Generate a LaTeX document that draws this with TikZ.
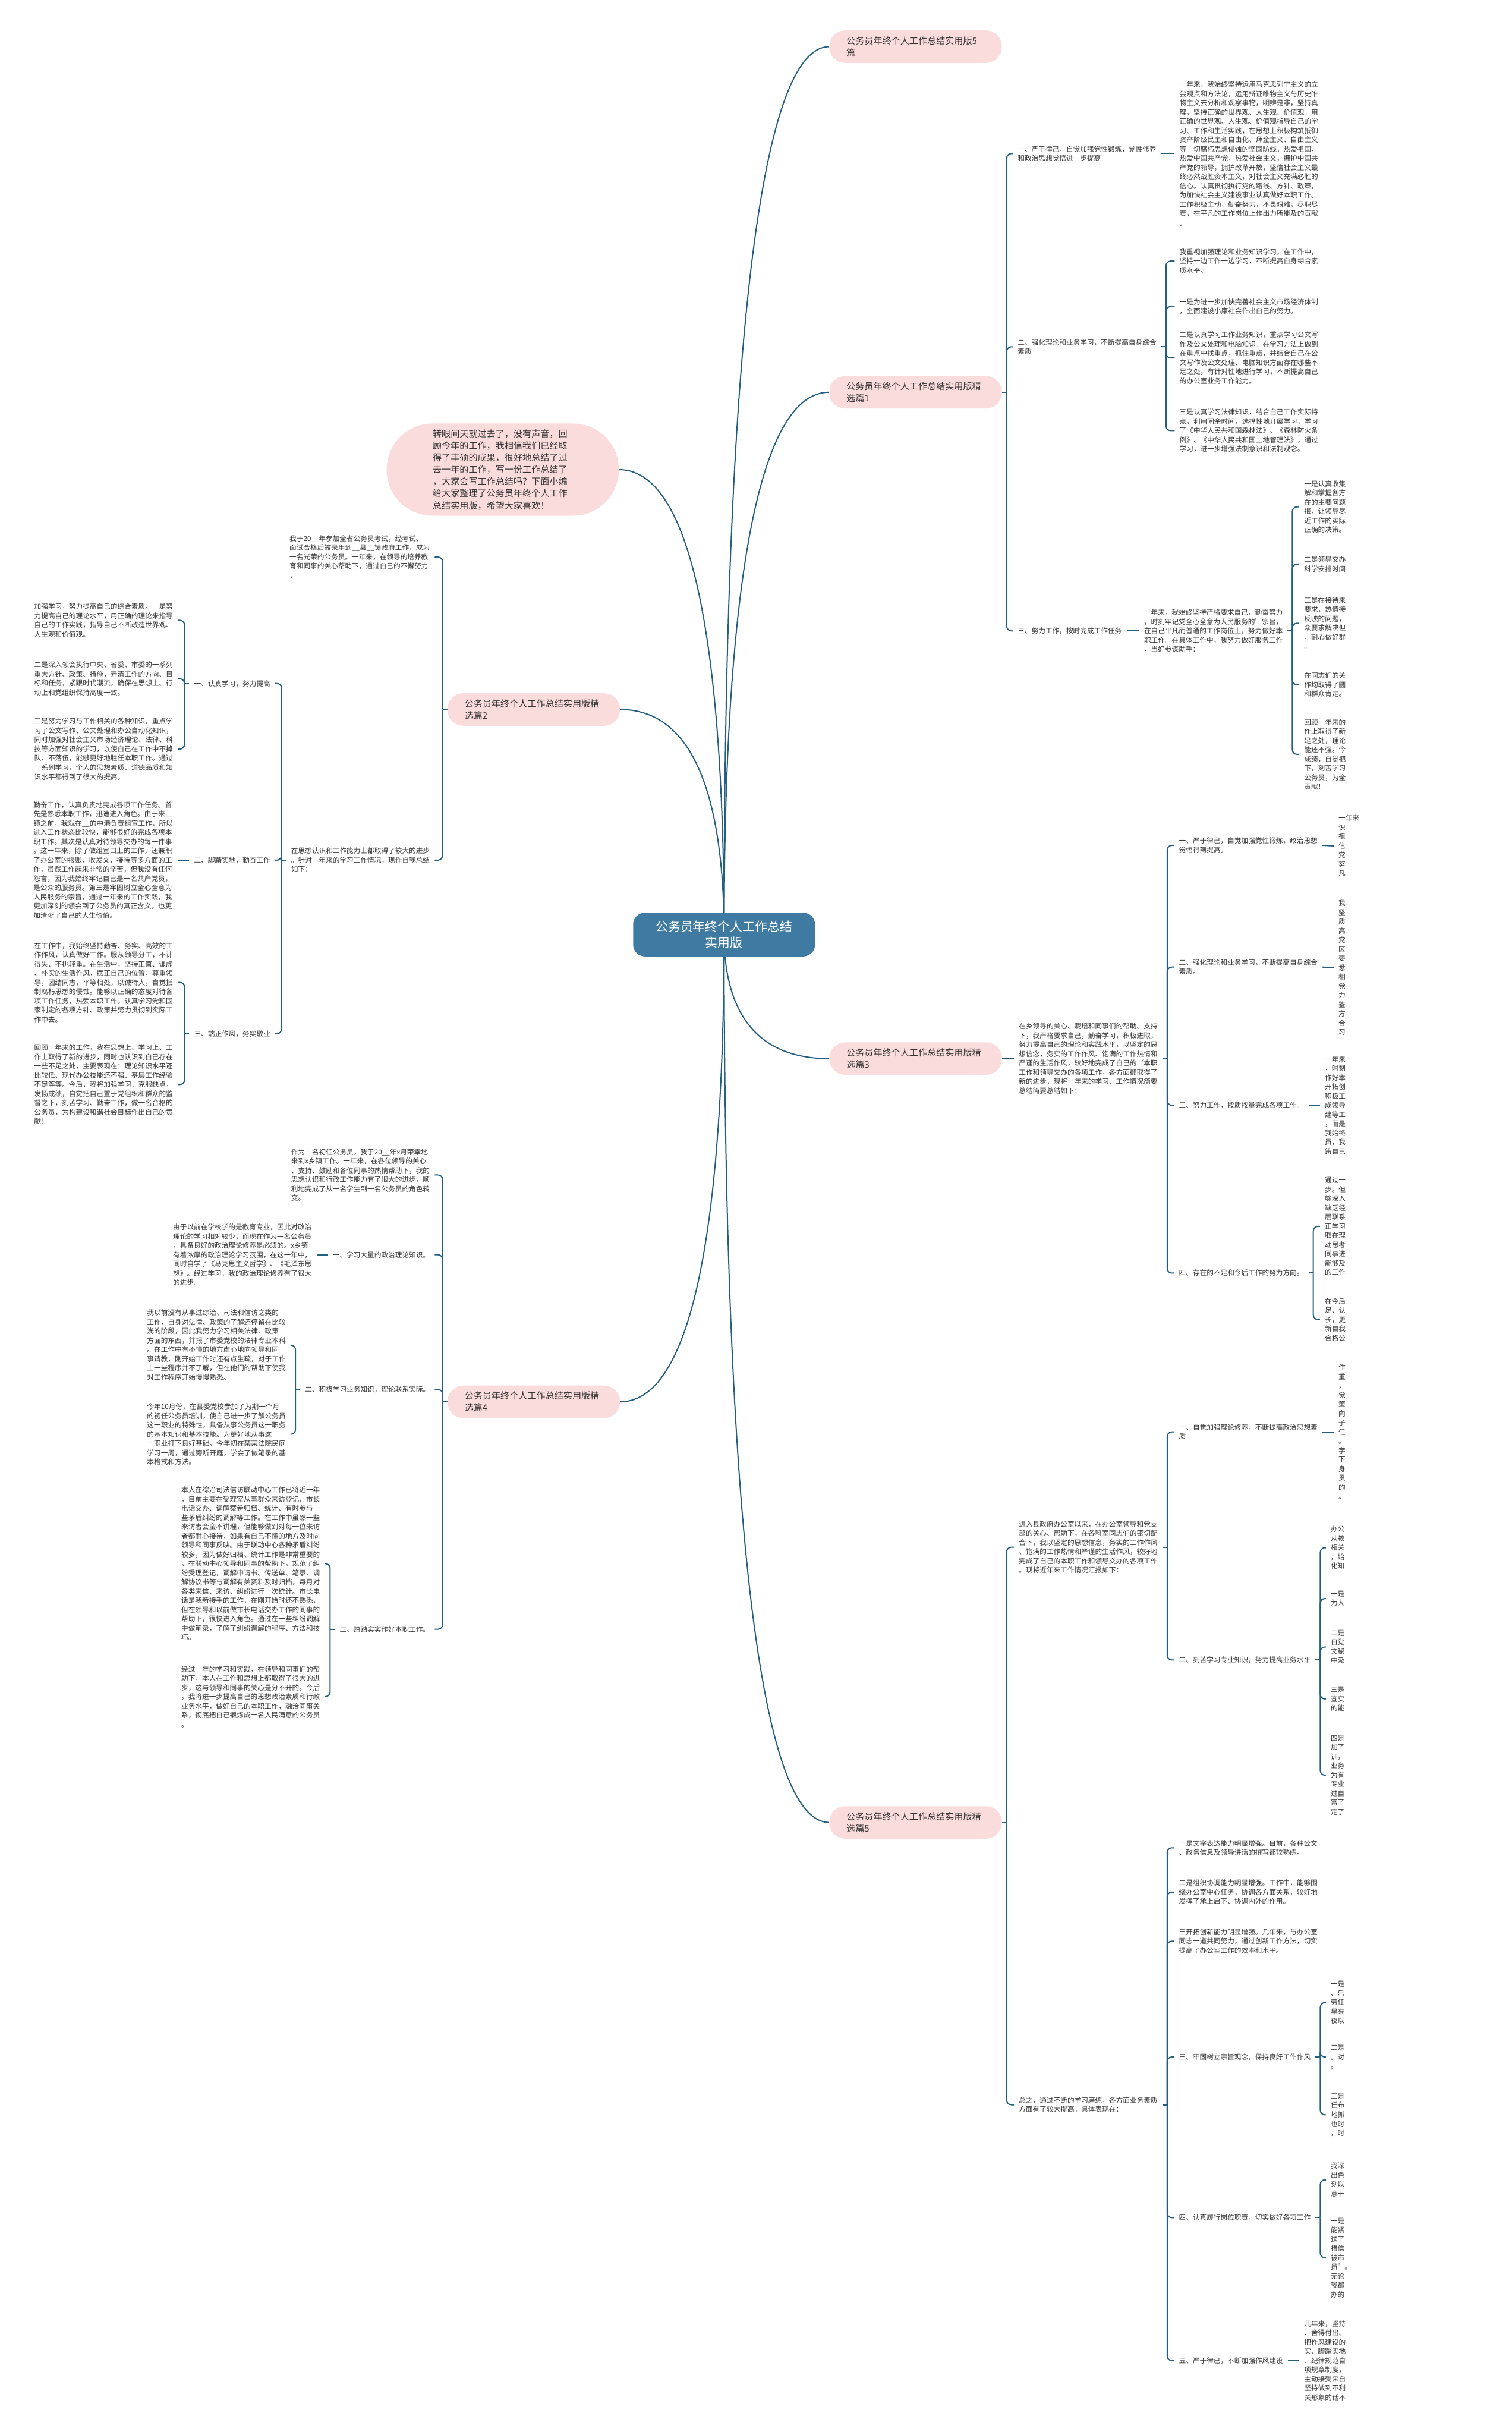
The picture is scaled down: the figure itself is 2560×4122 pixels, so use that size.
\documentclass[tikz,border=0pt]{standalone}
\usepackage{fontspec}
\setmainfont{Noto Sans CJK SC}
\usetikzlibrary{calc, positioning, backgrounds}

\definecolor{LinkBlue}{RGB}{36,94,128}
\definecolor{RootBlue}{RGB}{62,122,162}
\definecolor{PillPink}{RGB}{251,220,220}
\definecolor{TextGray}{RGB}{51,51,51}

\begin{document}
\begin{tikzpicture}[x=0.75pt, y=-0.75pt,
  root/.style={fill=RootBlue, text=white, rounded corners=15pt, align=center,
               minimum width=231pt, minimum height=55.5pt, font=\fontsize{15.8}{20}\selectfont},
  pill/.style={fill=PillPink, text=TextGray, rounded corners=20pt, align=left,
               text width=175.5pt, inner xsep=21.75pt, minimum height=41.25pt,
               font=\fontsize{11.4}{15.2}\selectfont},
  bigpill/.style={pill, text width=177.75pt, inner xsep=58.5pt, minimum height=117pt,
                  rounded corners=58pt},
  txt/.style={text=TextGray, align=left, inner xsep=6pt, inner ysep=0pt,
              font=\fontsize{8.8}{11.7}\selectfont},
  link/.style={draw=LinkBlue, line width=1.5pt},
  hook/.style={link, rounded corners=6pt},
  rootcurve/.style={to path={.. controls ($(\tikztostart)!0.5!(\tikztostart|-\tikztotarget)$)
                    and ($(\tikztostart|-\tikztotarget)!0.2!(\tikztotarget)$) .. (\tikztotarget)}},
]
\useasboundingbox (0,0) rectangle (2560,4122);

% centre
\node[root] (root) at (1226,1582) {公务员年终个人工作总结\\实用版};

% right hand pills
\node[pill, anchor=west] (allfive) at (1404,79) {公务员年终个人工作总结实用版5\\篇};
\node[pill, anchor=west] (sel1) at (1404,664) {公务员年终个人工作总结实用版精\\选篇1};
\node[pill, anchor=west] (sel3) at (1404,1792) {公务员年终个人工作总结实用版精\\选篇3};
\node[pill, anchor=west] (sel5) at (1404,3085) {公务员年终个人工作总结实用版精\\选篇5};

% left hand pills
\node[bigpill, anchor=east] (intro) at (1048,795) {转眼间天就过去了，没有声音，回\\顾今年的工作，我相信我们已经取\\得了丰硕的成果，很好地总结了过\\去一年的工作，写一份工作总结了\\，大家会写工作总结吗？下面小编\\给大家整理了公务员年终个人工作\\总结实用版，希望大家喜欢！};
\node[pill, anchor=east] (sel2) at (1050,1201) {公务员年终个人工作总结实用版精\\选篇2};
\node[pill, anchor=east] (sel4) at (1050,2373) {公务员年终个人工作总结实用版精\\选篇4};

% ---- 精选篇1
\node[txt, anchor=west] (s1a) at (1715,260) {一、严于律己，自觉加强党性锻炼，党性修养\\和政治思想觉悟进一步提高};
\node[txt, anchor=west] (s1a1) at (1989,260) {一年来，我始终坚持运用马克思列宁主义的立\\尝观点和方法论，运用辩证唯物主义与历史唯\\物主义去分析和观察事物，明辨是非，坚持真\\理，坚持正确的世界观、人生观、价值观，用\\正确的世界观、人生观、价值观指导自己的学\\习、工作和生活实践，在思想上积极构筑抵御\\资产阶级民主和自由化、拜金主义、自由主义\\等一切腐朽思想侵蚀的坚固防线。热爱祖国，\\热爱中国共产党，热爱社会主义，拥护中国共\\产党的领导，拥护改革开放，坚信社会主义最\\终必然战胜资本主义，对社会主义充满必胜的\\信心。认真贯彻执行党的路线、方针、政策，\\为加快社会主义建设事业认真做好本职工作。\\工作积极主动，勤奋努力，不畏艰难，尽职尽\\责，在平凡的工作岗位上作出力所能及的贡献\\。};
\node[txt, anchor=west] (s1b) at (1715,587) {二、强化理论和业务学习，不断提高自身综合\\素质};
\node[txt, anchor=west] (s1b1) at (1989,442) {我重视加强理论和业务知识学习，在工作中，\\坚持一边工作一边学习，不断提高自身综合素\\质水平。};
\node[txt, anchor=west] (s1b2) at (1989,519) {一是为进一步加快完善社会主义市场经济体制\\，全面建设小康社会作出自己的努力。};
\node[txt, anchor=west] (s1b3) at (1989,606) {二是认真学习工作业务知识，重点学习公文写\\作及公文处理和电脑知识。在学习方法上做到\\在重点中找重点，抓住重点，并结合自己在公\\文写作及公文处理、电脑知识方面存在哪些不\\足之处，有针对性地进行学习，不断提高自己\\的办公室业务工作能力。};
\node[txt, anchor=west] (s1b4) at (1989,729) {三是认真学习法律知识，结合自己工作实际特\\点，利用闲余时间，选择性地开展学习，学习\\了《中华人民共和国森林法》、《森林防火条\\例》、《中华人民共和国土地管理法》，通过\\学习，进一步增强法制意识和法制观念。};
\node[txt, anchor=west] (s1c) at (1715,1068) {三、努力工作，按时完成工作任务};
\node[txt, anchor=west] (s1c1) at (1929,1068) {一年来，我始终坚持严格要求自己，勤奋努力\\，时刻牢记党全心全意为人民服务的'宗旨，\\在自己平凡而普通的工作岗位上，努力做好本\\职工作。在具体工作中，我努力做好服务工作\\，当好参谋助手：};
\node[txt, anchor=west] (s1c1a) at (2200,858) {一是认真收集\\解和掌握各方\\在的主要问题\\报，让领导尽\\近工作的实际\\正确的决策。};
\node[txt, anchor=west] (s1c1b) at (2200,955) {二是领导交办\\科学安排时间};
\node[txt, anchor=west] (s1c1c) at (2200,1055) {三是在接待来\\要求，热情接\\反映的问题，\\众要求解决但\\，耐心做好群\\。};
\node[txt, anchor=west] (s1c1d) at (2200,1159) {在同志们的关\\作均取得了圆\\和群众肯定。};
\node[txt, anchor=west] (s1c1e) at (2200,1277) {回顾一年来的\\作上取得了新\\足之处，理论\\能还不强。今\\成绩，自觉把\\下，刻苦学习\\公务员，为全\\贡献！};

% ---- 精选篇3
\node[txt, anchor=west] (s3i) at (1717,1792) {在乡领导的关心、栽培和同事们的帮助、支持\\下，我严格要求自己，勤奋学习，积极进取，\\努力提高自己的理论和实践水平，以坚定的思\\想信念，务实的工作作风、饱满的工作热情和\\严谨的生活作风，较好地完成了自己的`本职\\工作和领导交办的各项工作，各方面都取得了\\新的进步，现将一年来的学习、工作情况简要\\总结简要总结如下：};
\node[txt, anchor=west] (s3a) at (1988,1431) {一、严于律己，自觉加强党性锻炼，政治思想\\觉悟得到提高。};
\node[txt, anchor=west] (s3b) at (1988,1637) {二、强化理论和业务学习，不断提高自身综合\\素质。};
\node[txt, anchor=west] (s3c) at (1988,1871) {三、努力工作，按质按量完成各项工作。};
\node[txt, anchor=west] (s3d) at (1988,2155) {四、存在的不足和今后工作的努力方向。};
\node[txt, anchor=west] (s3a1) at (2258,1432) {一年来\\识\\祖\\信\\党\\努\\凡};
\node[txt, anchor=west] (s3b1) at (2258,1638) {我\\坚\\质\\高\\党\\区\\要\\悉\\相\\党\\力\\鉴\\方\\合\\习};
\node[txt, anchor=west] (s3c1) at (2235,1871) {一年来\\，时刻\\作好本\\开拓创\\积极工\\成领导\\建等工\\，而是\\我始终\\员，我\\策自己};
\node[txt, anchor=west] (s3d1) at (2235,2076) {通过一\\步。但\\够深入\\缺乏经\\层联系\\正学习\\取在理\\动思考\\同事进\\能够及\\的工作};
\node[txt, anchor=west] (s3d2) at (2235,2234) {在今后\\足、认\\长，更\\新自我\\合格公};

% ---- 精选篇5
\node[txt, anchor=west] (s5i) at (1717,2619) {进入县政府办公室以来，在办公室领导和党支\\部的关心、帮助下，在各科室同志们的密切配\\合下，我以坚定的思想信念，务实的工作作风\\、饱满的工作热情和严谨的生活作风，较好地\\完成了自己的本职工作和领导交办的各项工作\\。现将近年来工作情况汇报如下：};
\node[txt, anchor=west] (s5j) at (1717,3563) {总之，通过不断的学习磨练，各方面业务素质\\方面有了较大提高。具体表现在：};
\node[txt, anchor=west] (s5a) at (1988,2424) {一、自觉加强理论修养，不断提高政治思想素\\质};
\node[txt, anchor=west] (s5b) at (1988,2810) {二、刻苦学习专业知识，努力提高业务水平};
\node[txt, anchor=west] (s5a1) at (2258,2424) {作\\重\\，\\觉\\策\\向\\子\\任\\。\\学\\下\\身\\贯\\的\\。};
\node[txt, anchor=west] (s5b1) at (2245,2620) {办公\\从教\\相关\\，始\\化知};
\node[txt, anchor=west] (s5b2) at (2245,2706) {一是\\为人};
\node[txt, anchor=west] (s5b3) at (2245,2788) {二是\\自觉\\文秘\\中汲};
\node[txt, anchor=west] (s5b4) at (2245,2876) {三是\\查实\\的能};
\node[txt, anchor=west] (s5b5) at (2245,3005) {四是\\加了\\训，\\业务\\为有\\专业\\过自\\富了\\定了};
\node[txt, anchor=west] (s5k1) at (1988,3128) {一是文字表达能力明显增强。目前，各种公文\\、政务信息及领导讲话的撰写都较熟练。};
\node[txt, anchor=west] (s5k2) at (1988,3203) {二是组织协调能力明显增强。工作中，能够围\\绕办公室中心任务，协调各方面关系，较好地\\发挥了承上启下、协调内外的作用。};
\node[txt, anchor=west] (s5k3) at (1988,3286) {三开拓创新能力明显增强。几年来，与办公室\\同志一道共同努力，通过创新工作方法，切实\\提高了办公室工作的效率和水平。};
\node[txt, anchor=west] (s5c) at (1988,3482) {三、牢固树立宗旨观念，保持良好工作作风};
\node[txt, anchor=west] (s5d) at (1988,3754) {四、认真履行岗位职责，切实做好各项工作};
\node[txt, anchor=west] (s5e) at (1988,3996) {五、严于律已，不断加强作风建设};
\node[txt, anchor=west] (s5c1) at (2245,3390) {一是\\、乐\\劳任\\早来\\夜以};
\node[txt, anchor=west] (s5c2) at (2245,3482) {二是\\。对\\。};
\node[txt, anchor=west] (s5c3) at (2245,3580) {三是\\任布\\地抓\\也时\\，时};
\node[txt, anchor=west] (s5d1) at (2245,3690) {我深\\出色\\刻以\\意干};
\node[txt, anchor=west] (s5d2) at (2245,3822) {一是\\能紧\\送了\\措信\\被市\\员”。\\无论\\我都\\办的};
\node[txt, anchor=west] (s5e1) at (2200,3996) {几年来，坚持\\、舍得付出、\\把作风建设的\\实、脚踏实地\\、纪律规范自\\项规章制度，\\主动接受来自\\坚持做到不利\\关形象的话不};

% ---- 精选篇2
\node[txt, anchor=east] (s2a) at (736,943) {我于20\_\_年参加全省公务员考试，经考试、\\面试合格后被录用到\_\_县\_\_镇政府工作，成为\\一名光荣的公务员。一年来，在领导的培养教\\育和同事的关心帮助下，通过自己的不懈努力\\，};
\node[txt, anchor=east] (s2b) at (736,1456) {在思想认识和工作能力上都取得了较大的进步\\。针对一年来的学习工作情况，现作自我总结\\如下：};
\node[txt, anchor=east] (s2b1) at (466,1157) {一、认真学习，努力提高};
\node[txt, anchor=east] (s2b2) at (466,1456) {二、脚踏实地，勤奋工作};
\node[txt, anchor=east] (s2b3) at (466,1750) {三、端正作风，务实敬业};
\node[txt, anchor=east] (s2b1a) at (301,1050) {加强学习，努力提高自己的综合素质。一是努\\力提高自己的理论水平，用正确的理论来指导\\自己的工作实践，指导自己不断改造世界观、\\人生观和价值观。};
\node[txt, anchor=east] (s2b1b) at (301,1149) {二是深入领会执行中央、省委、市委的一系列\\重大方针、政策、措施，弄清工作的方向、目\\标和任务，紧跟时代潮流，确保在思想上、行\\动上和党组织保持高度一致。};
\node[txt, anchor=east] (s2b1c) at (301,1268) {三是努力学习与工作相关的各种知识，重点学\\习了公文写作、公文处理和办公自动化知识，\\同时加强对社会主义市场经济理论、法律、科\\技等方面知识的学习，以使自己在工作中不掉\\队、不落伍，能够更好地胜任本职工作。通过\\一系列学习，个人的思想素质、道德品质和知\\识水平都得到了很大的提高。};
\node[txt, anchor=east] (s2b2a) at (301,1456) {勤奋工作，认真负责地完成各项工作任务。首\\先是熟悉本职工作，迅速进入角色。由于来\_\_\\镇之前，我就在\_\_的中港负责组宣工作，所以\\进入工作状态比较快，能够很好的完成各项本\\职工作。其次是认真对待领导交办的每一件事\\。这一年来，除了做组宣口上的工作，还兼职\\了办公室的报账，收发文，接待等多方面的工\\作，虽然工作起来非常的辛苦，但我没有任何\\怨言，因为我始终牢记自己是一名共产党员，\\是公众的服务员。第三是牢固树立全心全意为\\人民服务的宗旨，通过一年来的工作实践，我\\更加深刻的领会到了公务员的真正含义，也更\\加清晰了自己的人生价值。};
\node[txt, anchor=east] (s2b3a) at (301,1663) {在工作中，我始终坚持勤奋、务实、高效的工\\作作风，认真做好工作。服从领导分工，不计\\得失、不挑轻重。在生活中，坚持正直、谦虚\\、朴实的生活作风，摆正自己的位置，尊重领\\导，团结同志，平等相处，以诚待人，自觉抵\\制腐朽思想的侵蚀。能够以正确的态度对待各\\项工作任务，热爱本职工作，认真学习党和国\\家制定的各项方针、政策并努力贯彻到实际工\\作中去。};
\node[txt, anchor=east] (s2b3b) at (301,1836) {回顾一年来的工作，我在思想上、学习上、工\\作上取得了新的进步，同时也认识到自己存在\\一些不足之处，主要表现在：理论知识水平还\\比较低、现代办公技能还不强、基层工作经验\\不足等等。今后，我将加强学习，克服缺点，\\发扬成绩，自觉把自己置于党组织和群众的监\\督之下，刻苦学习、勤奋工作，做一名合格的\\公务员，为构建设和谐社会目标作出自己的贡\\献！};

% ---- 精选篇4
\node[txt, anchor=east] (s4a) at (736,1989) {作为一名初任公务员，我于20\_\_年x月荣幸地\\来到x乡镇工作。一年来，在各位领导的关心\\、支持、鼓励和各位同事的热情帮助下，我的\\思想认识和行政工作能力有了很大的进步，顺\\利地完成了从一名学生到一名公务员的角色转\\变。};
\node[txt, anchor=east] (s4b) at (736,2124) {一、学习大量的政治理论知识。};
\node[txt, anchor=east] (s4c) at (736,2352) {二、积极学习业务知识，理论联系实际。};
\node[txt, anchor=east] (s4d) at (736,2758) {三、踏踏实实作好本职工作。};
\node[txt, anchor=east] (s4b1) at (536,2124) {由于以前在学校学的是教育专业，因此对政治\\理论的学习相对较少，而现在作为一名公务员\\，具备良好的政治理论修养是必须的。x乡镇\\有着浓厚的政治理论学习氛围，在这一年中，\\同时自学了《马克思主义哲学》、《毛泽东思\\想》。经过学习，我的政治理论修养有了很大\\的进步。};
\node[txt, anchor=east] (s4c1) at (492,2277) {我以前没有从事过综治、司法和信访之类的\\工作，自身对法律、政策的了解还停留在比较\\浅的阶段，因此我努力学习相关法律、政策\\方面的东西，并报了市委党校的法律专业本科\\。在工作中有不懂的地方虚心地向领导和同\\事请教，刚开始工作时还有点生疏，对于工作\\上一些程序并不了解，但在他们的帮助下使我\\对工作程序开始慢慢熟悉。};
\node[txt, anchor=east] (s4c2) at (492,2428) {今年10月份，在县委党校参加了为期一个月\\的初任公务员培训，使自己进一步了解公务员\\这一职业的特殊性，具备从事公务员这一职务\\的基本知识和基本技能。为更好地从事这\\一职业打下良好基础。今年初在某某法院民庭\\学习一周，通过旁听开庭，学会了做笔录的基\\本格式和方法。};
\node[txt, anchor=east] (s4d1) at (550,2647) {本人在综治司法信访联动中心工作已将近一年\\，目前主要在受理室从事群众来访登记、市长\\电话交办、调解案卷归档、统计、有时参与一\\些矛盾纠纷的调解等工作。在工作中虽然一些\\来访者会蛮不讲理，但能够做到对每一位来访\\者都耐心接待，如果有自己不懂的地方及时向\\领导和同事反映。由于联动中心各种矛盾纠纷\\较多，因为做好归档、统计工作是非常重要的\\，在联动中心领导和同事的帮助下，规范了纠\\纷受理登记，调解申请书、传送单、笔录、调\\解协议书等与调解有关资料及时归档，每月对\\各类来信、来访、纠纷进行一次统计。市长电\\话是我新接手的工作，在刚开始时还不熟悉，\\但在领导和以前做市长电话交办工作的同事的\\帮助下，很快进入角色。通过在一些纠纷调解\\中做笔录，了解了纠纷调解的程序、方法和技\\巧。};
\node[txt, anchor=east] (s4d2) at (550,2872) {经过一年的学习和实践，在领导和同事们的帮\\助下，本人在工作和思想上都取得了很大的进\\步，这与领导和同事的关心是分不开的。今后\\，我将进一步提高自己的思想政治素质和行政\\业务水平，做好自己的本职工作，融洽同事关\\系，彻底把自己锻炼成一名人民满意的公务员\\。};

% ---- connectors inside the branches (right side)
\coordinate (j1) at ($(sel1.east)+(8,0)$);
\draw[link] (sel1.east) -- (j1);
\foreach \k in {s1a,s1b,s1c} \draw[hook] (j1) |- (\k.west);
\draw[link] (s1a.east) -- (s1a1.west);
\coordinate (j1b) at ($(s1b.east)+(8,0)$);
\draw[link] (s1b.east) -- (j1b);
\foreach \k in {s1b1,s1b2,s1b3,s1b4} \draw[hook] (j1b) |- (\k.west);
\draw[link] (s1c.east) -- (s1c1.west);
\coordinate (j1c) at ($(s1c1.east)+(8,0)$);
\draw[link] (s1c1.east) -- (j1c);
\foreach \k in {s1c1a,s1c1b,s1c1c,s1c1d,s1c1e} \draw[hook] (j1c) |- (\k.west);

\draw[link] (sel3.east) -- (s3i.west);
\coordinate (j3) at ($(s3i.east)+(8,0)$);
\draw[link] (s3i.east) -- (j3);
\foreach \k in {s3a,s3b,s3c,s3d} \draw[hook] (j3) |- (\k.west);
\draw[link] (s3a.east) -- (s3a1.west);
\draw[link] (s3b.east) -- (s3b1.west);
\draw[link] (s3c.east) -- (s3c1.west);
\coordinate (j3d) at ($(s3d.east)+(8,0)$);
\draw[link] (s3d.east) -- (j3d);
\foreach \k in {s3d1,s3d2} \draw[hook] (j3d) |- (\k.west);

\coordinate (j5) at ($(sel5.east)+(8,0)$);
\draw[link] (sel5.east) -- (j5);
\foreach \k in {s5i,s5j} \draw[hook] (j5) |- (\k.west);
\coordinate (j5i) at ($(s5i.east)+(8,0)$);
\draw[link] (s5i.east) -- (j5i);
\foreach \k in {s5a,s5b} \draw[hook] (j5i) |- (\k.west);
\draw[link] (s5a.east) -- (s5a1.west);
\coordinate (j5b) at ($(s5b.east)+(8,0)$);
\draw[link] (s5b.east) -- (j5b);
\foreach \k in {s5b1,s5b2,s5b3,s5b4,s5b5} \draw[hook] (j5b) |- (\k.west);
\coordinate (j5j) at ($(s5j.east)+(8,0)$);
\draw[link] (s5j.east) -- (j5j);
\foreach \k in {s5k1,s5k2,s5k3,s5c,s5d,s5e} \draw[hook] (j5j) |- (\k.west);
\coordinate (j5c) at ($(s5c.east)+(8,0)$);
\draw[link] (s5c.east) -- (j5c);
\foreach \k in {s5c1,s5c2,s5c3} \draw[hook] (j5c) |- (\k.west);
\coordinate (j5d) at ($(s5d.east)+(8,0)$);
\draw[link] (s5d.east) -- (j5d);
\foreach \k in {s5d1,s5d2} \draw[hook] (j5d) |- (\k.west);
\draw[link] (s5e.east) -- (s5e1.west);

% ---- connectors inside the branches (left side)
\coordinate (j2) at ($(sel2.west)+(-8,0)$);
\draw[link] (sel2.west) -- (j2);
\foreach \k in {s2a,s2b} \draw[hook] (j2) |- (\k.east);
\coordinate (j2b) at ($(s2b.west)+(-8,0)$);
\draw[link] (s2b.west) -- (j2b);
\foreach \k in {s2b1,s2b2,s2b3} \draw[hook] (j2b) |- (\k.east);
\coordinate (j2b1) at ($(s2b1.west)+(-8,0)$);
\draw[link] (s2b1.west) -- (j2b1);
\foreach \k in {s2b1a,s2b1b,s2b1c} \draw[hook] (j2b1) |- (\k.east);
\draw[link] (s2b2.west) -- (s2b2a.east);
\coordinate (j2b3) at ($(s2b3.west)+(-8,0)$);
\draw[link] (s2b3.west) -- (j2b3);
\foreach \k in {s2b3a,s2b3b} \draw[hook] (j2b3) |- (\k.east);

\coordinate (j4) at ($(sel4.west)+(-8,0)$);
\draw[link] (sel4.west) -- (j4);
\foreach \k in {s4a,s4b,s4c,s4d} \draw[hook] (j4) |- (\k.east);
\draw[link] (s4b.west) -- (s4b1.east);
\coordinate (j4c) at ($(s4c.west)+(-8,0)$);
\draw[link] (s4c.west) -- (j4c);
\foreach \k in {s4c1,s4c2} \draw[hook] (j4c) |- (\k.east);
\coordinate (j4d) at ($(s4d.west)+(-8,0)$);
\draw[link] (s4d.west) -- (j4d);
\foreach \k in {s4d1,s4d2} \draw[hook] (j4d) |- (\k.east);

% ---- main curves behind the nodes
\begin{scope}[on background layer]
  \fill[white] (0,0) rectangle (2560,4122);
  \foreach \p in {allfive,sel1,sel3,sel5}
    \draw[link] (root.center) to[rootcurve] (\p.west);
  \foreach \p in {intro,sel2,sel4}
    \draw[link] (root.center) to[rootcurve] (\p.east);
\end{scope}
\end{tikzpicture}
\end{document}
